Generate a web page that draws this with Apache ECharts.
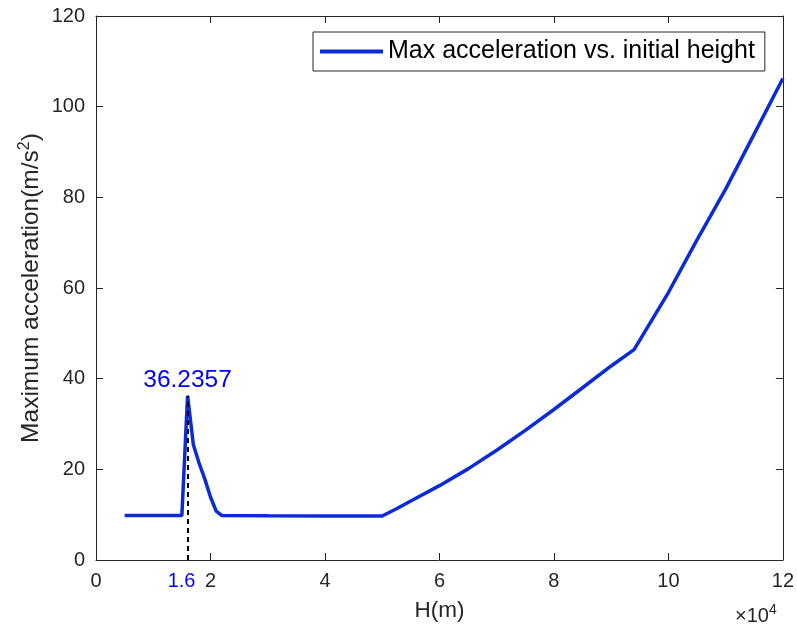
<!DOCTYPE html>
<html>
<head>
<meta charset="utf-8">
<script src="https://cdn.jsdelivr.net/npm/echarts@6/dist/echarts.min.js"></script>
<style>
  html, body { margin: 0; padding: 0; background: #fff; }
  #chart { width: 797px; height: 633px; }
</style>
</head>
<body>
<div id="chart"></div>
<script>
// initial height H (m)
var heights = [5000, 15000, 16000, 17000, 18000, 19000, 20000, 21000, 22000,
  30000, 40000, 50000, 52500, 55000, 60000, 65000, 70000, 75000, 80000, 85000,
  90000, 94000, 100000, 105000, 110000, 115000, 120000];
// max acceleration (m/s^2)
var maxAcc = [9.8, 9.8, 36.2357, 25.5, 21.4, 17.9, 13.9, 10.8, 9.8,
  9.75, 9.7, 9.7, 11.3, 13.0, 16.4, 20.1, 24.2, 28.6, 33.2, 38.0,
  42.8, 46.4, 59.0, 70.6, 81.8, 94.0, 106.2];
var peakH = 16000;
var peakVal = 36.2357;
var xLabelValues = [0, peakH, 20000, 40000, 60000, 80000, 100000, 120000];

var textColor = '#262626';
var font = 'Liberation Sans';
var tick = { show: true, inside: true, length: 7, lineStyle: { color: textColor, width: 1 } };

var chart = echarts.init(document.getElementById('chart'));
var option = {
  animation: false,
  backgroundColor: '#fff',
  textStyle: { fontFamily: font },
  grid: { left: 96, right: 11, top: 16, bottom: 73 },
  legend: {
    left: 313,
    top: 32,
    padding: [7, 10, 7, 7],
    borderColor: textColor,
    borderWidth: 1,
    itemWidth: 63,
    itemHeight: 4,
    icon: 'rect',
    textStyle: { color: '#000', fontSize: 25, fontFamily: font },
    data: ['Max acceleration vs. initial height']
  },
  xAxis: [{
    type: 'value',
    min: 0, max: 120000, interval: 20000,
    name: 'H(m)',
    nameLocation: 'middle',
    nameGap: 39,
    nameMoveOverlap: false,
    nameTextStyle: { color: textColor, fontSize: 22.5, fontFamily: font },
    axisLine: { onZero: false, lineStyle: { color: textColor, width: 1 } },
    axisTick: tick,
    splitLine: { show: false },
    axisLabel: {
      color: textColor, fontSize: 20, margin: 11, fontFamily: font,
      customValues: xLabelValues,
      formatter: function (v) {
        if (v === peakH) return '{b|1.6}';
        return String(v / 10000);
      },
      rich: { b: { color: '#0000ff', fontSize: 20, fontFamily: font, padding: [0, 12, 0, 0] } }
    }
  }, {
    type: 'value', position: 'top',
    min: 0, max: 120000, interval: 20000,
    axisLine: { onZero: false, lineStyle: { color: textColor, width: 1 } },
    axisTick: tick,
    axisLabel: { show: false },
    splitLine: { show: false }
  }],
  yAxis: [{
    type: 'value',
    min: 0, max: 120, interval: 20,
    name: 'Maximum acceleration(m/s{sup|2})',
    nameLocation: 'middle',
    nameGap: 51,
    nameMoveOverlap: false,
    nameTextStyle: {
      color: textColor, fontSize: 24.5, fontFamily: font,
      rich: { sup: { fontSize: 16, padding: [0, 0, 12, 0], color: textColor, fontFamily: font } }
    },
    axisLine: { onZero: false, lineStyle: { color: textColor, width: 1 } },
    axisTick: tick,
    axisLabel: { color: textColor, fontSize: 20, margin: 11, fontFamily: font },
    splitLine: { show: false }
  }, {
    type: 'value', position: 'right',
    min: 0, max: 120, interval: 20,
    axisLine: { show: true, onZero: false, lineStyle: { color: textColor, width: 1 } },
    axisTick: tick,
    axisLabel: { show: false },
    splitLine: { show: false }
  }],
  series: [{
    name: 'Max acceleration vs. initial height',
    type: 'line',
    data: heights.map(function (h, i) { return [h, maxAcc[i]]; }),
    showSymbol: false,
    symbol: 'none',
    color: '#0a2bd6',
    lineStyle: { color: '#0a2bd6', width: 3.5 },
    markLine: {
      silent: true,
      symbol: 'none',
      animation: false,
      lineStyle: { color: '#000', type: [5, 4], width: 2 },
      label: { show: false },
      data: [[{ coord: [peakH, 0] }, { coord: [peakH, peakVal] }]]
    },
    markPoint: {
      silent: true,
      symbol: 'circle',
      symbolSize: 1,
      itemStyle: { color: 'rgba(0,0,0,0)' },
      label: {
        show: true,
        position: 'top',
        distance: 2,
        color: '#0000ff',
        fontSize: 24.5,
        fontFamily: font,
        formatter: String(peakVal)
      },
      data: [{ coord: [peakH, peakVal] }]
    }
  }],
  graphic: [{
    type: 'text',
    left: 735,
    top: 603,
    style: {
      text: '×10{s|4}',
      fill: textColor,
      font: '20px ' + font,
      rich: { s: { fontSize: 14, padding: [0, 0, 12, 0], fill: textColor, fontFamily: font } }
    }
  }]
};
chart.setOption(option);
</script>
</body>
</html>
